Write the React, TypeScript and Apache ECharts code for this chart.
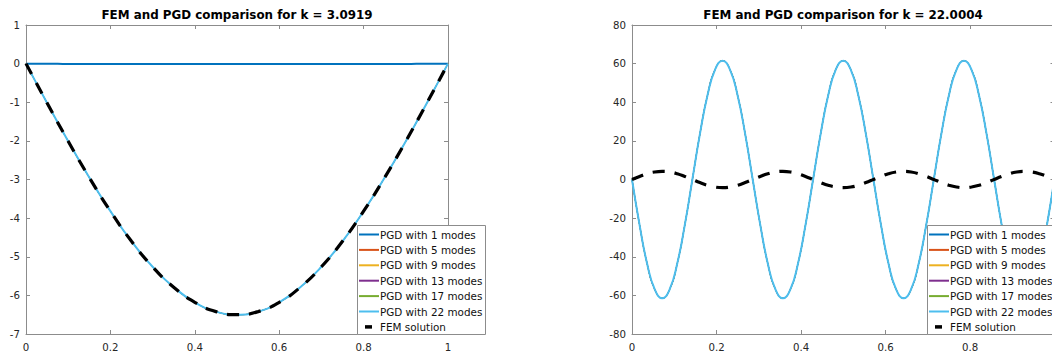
import React, { useEffect, useRef } from "react";
import * as echarts from "echarts";

// ---------- data ----------
const titles = ["FEM and PGD comparison for k = 3.0919", "FEM and PGD comparison for k = 22.0004"];
const legendNames = [
  "PGD with 1 modes",
  "PGD with 5 modes",
  "PGD with 9 modes",
  "PGD with 13 modes",
  "PGD with 17 modes",
  "PGD with 22 modes",
  "FEM solution",
];
const pgdColors = ["#0072BD", "#D95319", "#EDB120", "#7E2F8E", "#77AC30", "#4DBEEE"];

// left panel (k = 3.0919)
const xLeft = [0, 0.05, 0.1, 0.15, 0.2, 0.25, 0.3, 0.35, 0.4, 0.45, 0.5, 0.55, 0.6, 0.65, 0.7, 0.75, 0.8, 0.85, 0.9, 0.95, 1];
const femLeft = [0, -1.02, -2.01, -2.95, -3.82, -4.6, -5.26, -5.79, -6.18, -6.42, -6.5, -6.42, -6.18, -5.79, -5.26, -4.6, -3.82, -2.95, -2.01, -1.02, 0];
const pgdManyLeft = [0, -1.02, -2.01, -2.95, -3.82, -4.6, -5.26, -5.79, -6.18, -6.42, -6.5, -6.42, -6.18, -5.79, -5.26, -4.6, -3.82, -2.95, -2.01, -1.02, 0];
const pgd1Left = [0, 0, -0.01, -0.01, -0.01, -0.01, -0.01, -0.01, -0.01, -0.01, -0.01, -0.01, -0.01, -0.01, -0.01, -0.01, -0.01, -0.01, -0.01, 0, 0];

// right panel (k = 22.0004)
const xRight = [
  0, 0.0179, 0.0357, 0.0536, 0.0714, 0.0893, 0.1071, 0.125, 0.1429, 0.1607, 0.1786, 0.1964, 0.2143, 0.2321, 0.25,
  0.2679, 0.2857, 0.3036, 0.3214, 0.3393, 0.3571, 0.375, 0.3929, 0.4107, 0.4286, 0.4464, 0.4643, 0.4821, 0.5,
  0.5179, 0.5357, 0.5536, 0.5714, 0.5893, 0.6071, 0.625, 0.6429, 0.6607, 0.6786, 0.6964, 0.7143, 0.7321, 0.75,
  0.7679, 0.7857, 0.8036, 0.8214, 0.8393, 0.8571, 0.875, 0.8929, 0.9107, 0.9286, 0.9464, 0.9643, 0.9821, 1,
];
const pgdManyRight = [
  0, -23.5, -43.5, -56.8, -61.5, -56.8, -43.5, -23.5, 0, 23.5, 43.5, 56.8, 61.5, 56.8, 43.5, 23.5,
  0, -23.5, -43.5, -56.8, -61.5, -56.8, -43.5, -23.5, 0, 23.5, 43.5, 56.8, 61.5, 56.8, 43.5, 23.5,
  0, -23.5, -43.5, -56.8, -61.5, -56.8, -43.5, -23.5, 0, 23.5, 43.5, 56.8, 61.5, 56.8, 43.5, 23.5,
  0, -23.5, -43.5, -56.8, -61.5, -56.8, -43.5, -23.5, 0.5,
];
const femRight = [
  0, 1.6, 3.0, 3.9, 4.2, 3.9, 3.0, 1.6, 0, -1.6, -3.0, -3.9, -4.2, -3.9, -3.0, -1.6,
  0, 1.6, 3.0, 3.9, 4.2, 3.9, 3.0, 1.6, 0, -1.6, -3.0, -3.9, -4.2, -3.9, -3.0, -1.6,
  0, 1.6, 3.0, 3.9, 4.2, 3.9, 3.0, 1.6, 0, -1.6, -3.0, -3.9, -4.2, -3.9, -3.0, -1.6,
  0, 1.6, 3.0, 3.9, 4.2, 3.9, 3.0, 1.6, 0,
];
// ---------------------------------------------------

const FONT = "'DejaVu Sans', 'Liberation Sans', Arial, sans-serif";
const AXIS_COLOR = "#8c8c8c";
const TEXT_COLOR = "#262626";

const pairs = (xs: number[], ys: number[]) => xs.map((x, i) => [x, ys[i]]);

function makeAxes(
  gridIndex: number,
  min: number,
  max: number,
  interval: number,
  isX: boolean,
  showMaxLabel: boolean = true
) {
  const common = {
    gridIndex,
    type: "value",
    min,
    max,
    interval,
    splitLine: { show: false },
    axisLine: { show: true, onZero: false, lineStyle: { color: AXIS_COLOR, width: 1 } },
    axisTick: { show: true, inside: true, length: 4, lineStyle: { color: AXIS_COLOR } },
  };
  return [
    {
      ...common,
      position: isX ? "bottom" : "left",
      axisLabel: {
        show: true,
        color: TEXT_COLOR,
        fontSize: 10.2,
        fontFamily: FONT,
        margin: isX ? 8 : 6,
        showMaxLabel,
      },
    },
    {
      ...common,
      position: isX ? "top" : "right",
      axisLabel: { show: false },
    },
  ];
}

function legendGraphics(left: number, top: number) {
  const els: any[] = [];
  els.push({
    type: "rect",
    z: 100,
    shape: { x: left + 0.5, y: top + 0.5, width: 128, height: 109 },
    style: { fill: "#ffffff", stroke: AXIS_COLOR, lineWidth: 1 },
  });
  legendNames.forEach((name, i) => {
    const cy = top + 9.5 + 15.4 * i;
    if (i < 6) {
      els.push({
        type: "line",
        z: 101,
        shape: { x1: left + 2, y1: cy, x2: left + 22, y2: cy },
        style: { stroke: pgdColors[i], lineWidth: 2 },
      });
    } else {
      els.push({
        type: "line",
        z: 101,
        shape: { x1: left + 8, y1: cy, x2: left + 15, y2: cy },
        style: { stroke: "#000000", lineWidth: 3.5 },
      });
    }
    els.push({
      type: "text",
      z: 101,
      x: left + 23,
      y: cy,
      style: {
        text: name,
        fill: "#111111",
        font: `10.4px ${FONT}`,
        textVerticalAlign: "middle",
        verticalAlign: "middle",
      },
    });
  });
  return els;
}

function buildSeries(
  xAxisIndex: number,
  yAxisIndex: number,
  xs: number[],
  pgd1: number[],
  pgdMany: number[],
  fem: number[],
  pgd1Visible: boolean
) {
  const s: any[] = [];
  for (let i = 0; i < 6; i++) {
    const visible = i === 5 || (i === 0 && pgd1Visible);
    s.push({
      type: "line",
      name: legendNames[i],
      xAxisIndex,
      yAxisIndex,
      data: pairs(xs, i === 0 ? pgd1 : pgdMany),
      showSymbol: false,
      symbol: "none",
      smooth: true,
      lineStyle: { color: pgdColors[i], width: visible ? 2 : 1 },
      itemStyle: { color: pgdColors[i] },
    });
  }
  s.push({
    type: "line",
    name: legendNames[6],
    xAxisIndex,
    yAxisIndex,
    data: pairs(xs, fem),
    showSymbol: false,
    symbol: "none",
    smooth: true,
    lineStyle: { color: "#000000", width: 3.2, type: [12, 10], cap: "butt" },
    itemStyle: { color: "#000000" },
  });
  return s;
}

export default function App() {
  const ref = useRef<HTMLDivElement>(null);
  useEffect(() => {
    if (!ref.current) return;
    const chart = echarts.init(ref.current, undefined, { renderer: "svg" });
    const leftX = makeAxes(0, 0, 1, 0.2, true);
    const leftY = makeAxes(0, -7, 1, 1, false);
    const rightX = makeAxes(1, 0, 1, 0.2, true, false);
    const rightY = makeAxes(1, -80, 80, 20, false);
    const titleStyle = { fontSize: 11.9, fontWeight: "bold", color: "#000", fontFamily: FONT };
    chart.setOption({
      animation: false,
      backgroundColor: "#ffffff",
      title: [
        { text: titles[0], left: 237, top: 9, padding: 0, textAlign: "center", textStyle: titleStyle },
        { text: titles[1], left: 843, top: 9, padding: 0, textAlign: "center", textStyle: titleStyle },
      ],
      grid: [
        { left: 26, top: 25, width: 422, height: 309, containLabel: false, outerBoundsMode: "none" },
        { left: 632, top: 25, width: 422.5, height: 309, containLabel: false, outerBoundsMode: "none" },
      ],
      xAxis: [...leftX, ...rightX],
      yAxis: [...leftY, ...rightY],
      series: [
        ...buildSeries(0, 0, xLeft, pgd1Left, pgdManyLeft, femLeft, true),
        ...buildSeries(2, 2, xRight, pgdManyRight, pgdManyRight, femRight, false),
      ],
      graphic: [...legendGraphics(357, 225), ...legendGraphics(927, 225)],
    });
    return () => chart.dispose();
  }, []);
  return (
    <div
      ref={ref}
      style={{ position: "fixed", left: 0, top: 0, width: 1052, height: 359, background: "#ffffff" }}
    />
  );
}
